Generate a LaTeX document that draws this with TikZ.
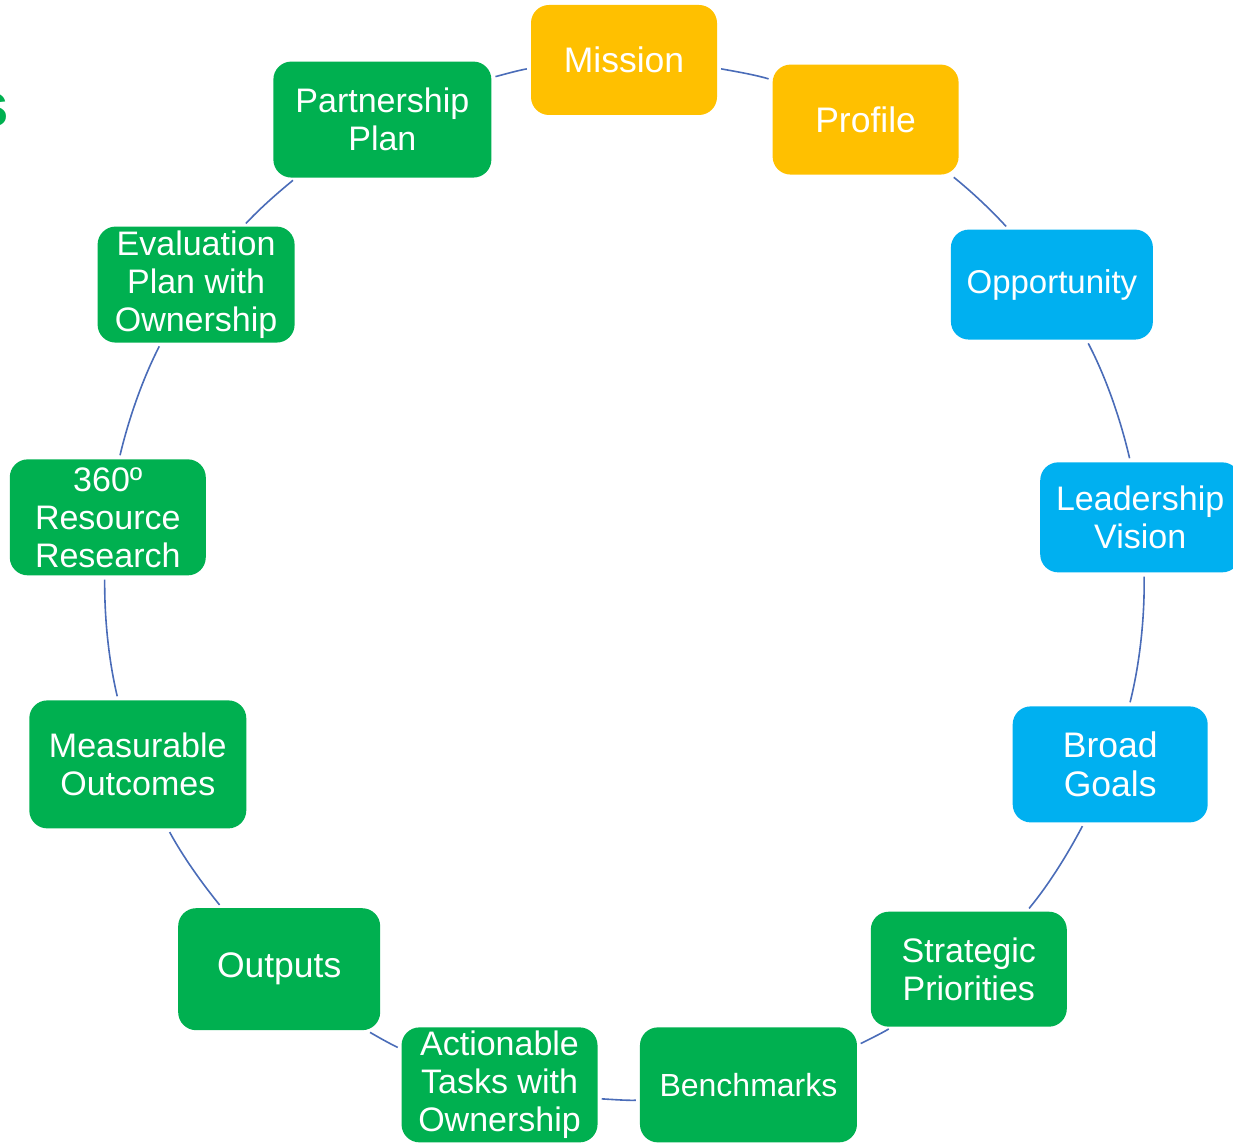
\documentclass[tikz,border=0pt]{standalone}
\usepackage{fontspec}
\newfontfamily\lsans{Liberation Sans}
\definecolor{ygold}{HTML}{FFC000}
\definecolor{skyb}{HTML}{00B0F0}
\definecolor{grn}{HTML}{00B050}
\definecolor{lnk}{HTML}{4A6CB8}
\tikzset{
  box/.style={rounded corners=18pt, text=white, align=center, inner sep=0pt,
              font=\lsans\fontsize{34}{38}\selectfont},
  ybox/.style={box, fill=ygold},
  bbox/.style={box, fill=skyb},
  gbox/.style={box, fill=grn},
  big/.style={font=\lsans\fontsize{35.5}{39}\selectfont},
  conn/.style={draw=lnk, line width=1.6pt, looseness=0.85, shorten <=4pt, shorten >=4pt}
}
\begin{document}
\begin{tikzpicture}[x=1pt,y=1pt]
\useasboundingbox (-624,-563) rectangle (609,580);
% cropped title fragment
\node[anchor=base east, inner sep=0pt, text=grn, font=\lsans\bfseries\fontsize{62}{62}\selectfont] (title) at (-615,453) {s};
% nodes
\node[ybox, big, minimum width=186pt, minimum height=110pt] (mission) at (90:520) {Mission};
\node[ybox, big, minimum width=186pt, minimum height=110pt] (profile) at (62.31:520) {Profile};
\node[bbox, font=\lsans\fontsize{33}{38}\selectfont, minimum width=202pt, minimum height=110pt] (opp) at (34.62:520) {Opportunity};
\node[bbox, minimum width=200pt, minimum height=110pt] (lead) at (6.92:520) {Leadership\\Vision};
\node[bbox, big, minimum width=195pt, minimum height=116pt] (broad) at (-20.77:520) {Broad\\Goals};
\node[gbox, minimum width=196pt, minimum height=115pt] (strat) at (-48.46:520) {Strategic\\Priorities};
\node[gbox, font=\lsans\fontsize{32}{38}\selectfont, minimum width=217pt, minimum height=115pt] (bench) at (-76.15:520) {Benchmarks};
\node[gbox, minimum width=196pt, minimum height=115pt] (act) at (-103.85:520) {Actionable\\Tasks with\\Ownership};
\node[gbox, big, minimum width=202pt, minimum height=122pt] (outp) at (-131.54:520) {Outputs};
\node[gbox, minimum width=217pt, minimum height=128pt] (meas) at (-159.23:520) {Measurable\\Outcomes};
\node[gbox, minimum width=196pt, minimum height=116pt] (res) at (-186.92:520) {360º\\Resource\\Research};
\node[gbox, minimum width=197pt, minimum height=116pt] (eval) at (-214.62:520) {Evaluation\\Plan with\\Ownership};
\node[gbox, minimum width=218pt, minimum height=116pt] (part) at (-242.31:520) {Partnership\\Plan};
% connectors (arcs of the cycle)
\draw[conn] (mission.-5.2) to[out=-10.3, in=163.38] (profile.157.8);
\draw[conn] (profile.-33.2) to[out=-38.78, in=132.37] (opp.128.1);
\draw[conn] (opp.-58.4) to[out=-62.46, in=103.08] (lead.100);
\draw[conn] (lead.-86.2) to[out=-89.15, in=75.93] (broad.72.6);
\draw[conn] (broad.-114.3) to[out=-117.78, in=50.35] (strat.45.96);
\draw[conn] (strat.-143.9) to[out=-149.24, in=26.62] (bench.20.2);
\draw[conn] (bench.-172.2) to[out=-178.24, in=-2.92] (act.-8.4);
\draw[conn] (act.160.4) to[out=154.67, in=-30] (outp.-35.7);
\draw[conn] (outp.133.8) to[out=129.15, in=-61.47] (meas.-65.3);
\draw[conn] (meas.107.1) to[out=103.39, in=-90.52] (res.-93.7);
\draw[conn] (res.79.8) to[out=76.58, in=-117.16] (eval.-121.3);
\draw[conn] (eval.51.7) to[out=47.18, in=-140.7] (part.-146.5);
\draw[conn] (part.21.3) to[out=14.79, in=190.3] (mission.185.2);
\end{tikzpicture}
\end{document}
